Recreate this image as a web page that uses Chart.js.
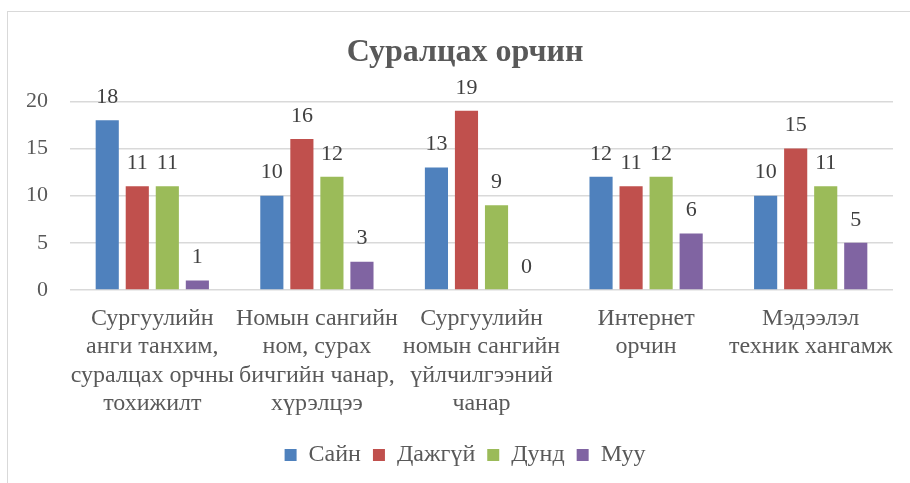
<!DOCTYPE html>
<html>
<head>
<meta charset="utf-8">
<script src="https://cdn.jsdelivr.net/npm/chart.js@4.4.1/dist/chart.umd.min.js"></script>
<style>
    html, body { margin: 0; padding: 0; background: #fff; overflow: hidden; }
    #wrap { position: relative; width: 910px; height: 483px; }
    #frame { position: absolute; left: 7px; top: 11px; width: 920px; height: 490px; border-left: 1px solid #d9d9d9; border-top: 1px solid #d9d9d9; }
    canvas { position: absolute; left: 0; top: 0; }
</style>
</head>
<body>
<div id="wrap">
    <div id="frame"></div>
    <canvas id="chart" width="910" height="483"></canvas>
</div>
<script>
const TITLE = 'Суралцах орчин';
const CATEGORIES = [
    ['Сургуулийн', 'анги танхим,', 'суралцах орчны', 'тохижилт'],
    ['Номын сангийн', 'ном, сурах', 'бичгийн чанар,', 'хүрэлцээ'],
    ['Сургуулийн', 'номын сангийн', 'үйлчилгээний', 'чанар'],
    ['Интернет', 'орчин'],
    ['Мэдээлэл', 'техник хангамж']
];
const SERIES_NAMES = ['Сайн', 'Дажгүй', 'Дунд', 'Муу'];
const SAIN = [18, 10, 13, 12, 10];
const DAJGUI = [11, 16, 19, 11, 15];
const DUND = [11, 12, 9, 12, 11];
const MUU = [1, 3, 0, 6, 5];
const Y_TICKS = [0, 5, 10, 15, 20];

const COLORS = ['#4f81bd', '#c0504d', '#9bbb59', '#8064a2'];
const FONT = '"Liberation Serif", "Times New Roman", serif';

const valueLabels = {
    id: 'valueLabels',
    afterDatasetsDraw(chart) {
        const ctx = chart.ctx;
        ctx.save();
        ctx.font = `22px ${FONT}`;
        ctx.fillStyle = '#404040';
        ctx.textAlign = 'center';
        ctx.textBaseline = 'middle';
        chart.data.datasets.forEach((ds, i) => {
            chart.getDatasetMeta(i).data.forEach((bar, j) => {
                ctx.fillText(String(ds.data[j]), bar.x, bar.y - 23);
            });
        });
        ctx.restore();
    }
};

const seriesData = [SAIN, DAJGUI, DUND, MUU];

new Chart(document.getElementById('chart'), {
    type: 'bar',
    data: {
        labels: CATEGORIES,
        datasets: SERIES_NAMES.map((name, i) => ({
            label: name,
            data: seriesData[i],
            backgroundColor: COLORS[i],
            categoryPercentage: 0.73,
            barPercentage: 0.77
        }))
    },
    options: {
        responsive: false,
        animation: false,
        layout: { padding: { left: 20, right: 0, top: 0, bottom: 6 } },
        plugins: {
            title: {
                display: true,
                text: TITLE,
                color: '#595959',
                font: { family: FONT, size: 32, weight: 'bold', lineHeight: 1.2 },
                padding: { top: 34, bottom: 29 }
            },
            legend: {
                position: 'bottom',
                labels: {
                    boxWidth: 12,
                    boxHeight: 12,
                    color: '#595959',
                    padding: 12,
                    font: { family: FONT, size: 24 }
                }
            },
            tooltip: { enabled: false }
        },
        scales: {
            x: {
                grid: { display: false, drawTicks: false },
                border: { display: false },
                ticks: {
                    color: '#595959',
                    font: { family: FONT, size: 24, lineHeight: 1.19 },
                    padding: 14,
                    autoSkip: false,
                    maxRotation: 0
                },
                afterFit(scale) { scale.height = 141; }
            },
            y: {
                min: 0,
                max: 20,
                afterBuildTicks(scale) { scale.ticks = Y_TICKS.map(v => ({ value: v })); },
                grid: { color: '#d9d9d9', lineWidth: 1.5, drawTicks: false },
                border: { display: false },
                ticks: {
                    color: '#595959',
                    font: { family: FONT, size: 22 },
                    padding: 22
                },
                afterFit(scale) { scale.width = 50; }
            },
            yRight: {
                position: 'right',
                display: true,
                grid: { display: false, drawTicks: false },
                border: { display: false },
                ticks: { display: false },
                afterFit(scale) { scale.width = 17; }
            }
        }
    },
    plugins: [valueLabels]
});
</script>
</body>
</html>
